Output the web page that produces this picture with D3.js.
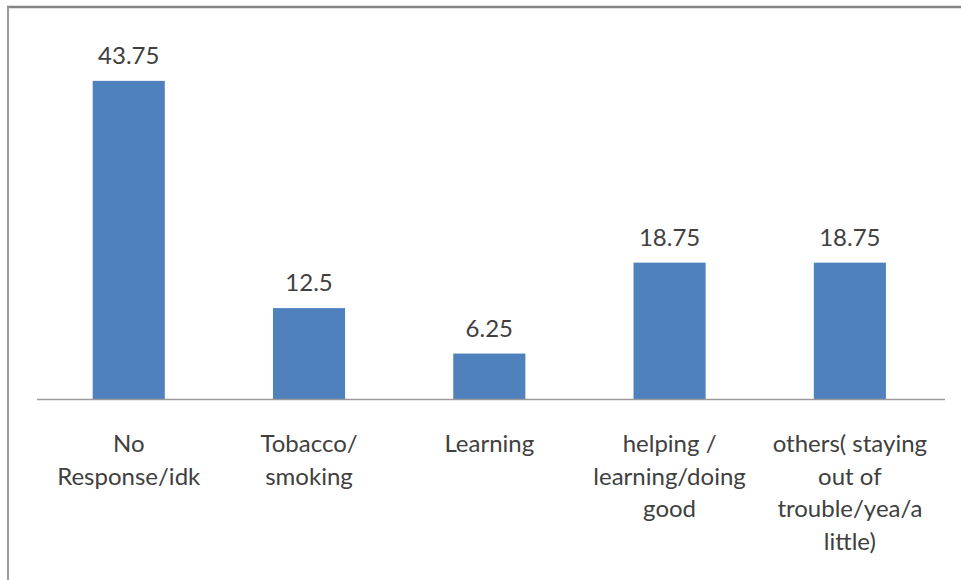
<!DOCTYPE html>
<html>
<head>
<meta charset="utf-8">
<script src="https://cdn.jsdelivr.net/npm/d3@7"></script>
<style>
  html, body { margin: 0; padding: 0; background: #fff; }
  svg { display: block; }
  text { font-family: Lato, "Open Sans", sans-serif; fill: #404040; }
</style>
</head>
<body>
<svg id="chart" width="961" height="580"></svg>
<script>
// Response categories (line breaks as shown under each bar)
const categories = [
  "No\nResponse/idk",
  "Tobacco/\nsmoking",
  "Learning",
  "helping /\nlearning/doing\ngood",
  "others( staying\nout of\ntrouble/yea/a\nlittle)"
];
// Percentage of responses per category
const values = [43.75, 12.5, 6.25, 18.75, 18.75];
const valueLabels = ["43.75", "12.5", "6.25", "18.75", "18.75"];

const svg = d3.select("#chart");
const W = 961, H = 580;

// Chart frame (top and left edges)
svg.append("line").attr("x1", 7).attr("x2", W).attr("y1", 7).attr("y2", 7)
  .attr("stroke", "#858585").attr("stroke-width", 2.5);
svg.append("line").attr("x1", 8).attr("x2", 8).attr("y1", 7).attr("y2", H)
  .attr("stroke", "#9a9a9a").attr("stroke-width", 2);

const x = d3.scaleBand()
  .domain(d3.range(categories.length))
  .range([38.6, 940])
  .paddingInner(0.6)
  .paddingOuter(0.3);

const y = d3.scaleLinear()
  .domain([0, 50])
  .range([399, 35.4]);

// Bars
svg.append("g").selectAll("rect")
  .data(values)
  .join("rect")
  .attr("x", (d, i) => x(i))
  .attr("width", x.bandwidth())
  .attr("y", d => y(d))
  .attr("height", d => y(0) - y(d))
  .attr("fill", "#4F81BD");

// Baseline (category axis)
const xAxis = d3.axisBottom(x).tickSize(0).tickFormat("");
const axisG = svg.append("g")
  .attr("transform", `translate(0,${y(0)})`)
  .call(xAxis);
axisG.select(".domain").attr("stroke", "#9b9b9b").attr("stroke-width", 1.5)
  .attr("d", `M37,0.5H945`);

// Value labels above bars
svg.append("g").selectAll("text")
  .data(values)
  .join("text")
  .attr("x", (d, i) => x(i) + x.bandwidth() / 2)
  .attr("y", d => y(d) - 17)
  .attr("text-anchor", "middle")
  .attr("font-size", 24)
  .text((d, i) => valueLabels[i]);

// Category labels, one line per tspan
const catG = svg.append("g").selectAll("text")
  .data(categories)
  .join("text")
  .attr("text-anchor", "middle")
  .attr("font-size", 24)
  .attr("x", (d, i) => x(i) + x.bandwidth() / 2)
  .attr("y", 452);
catG.each(function(d, i) {
  const t = d3.select(this);
  d.split("\n").forEach((line, k) => {
    t.append("tspan")
      .attr("x", x(i) + x.bandwidth() / 2)
      .attr("y", 452 + k * 32.5)
      .text(line);
  });
});
</script>
</body>
</html>
